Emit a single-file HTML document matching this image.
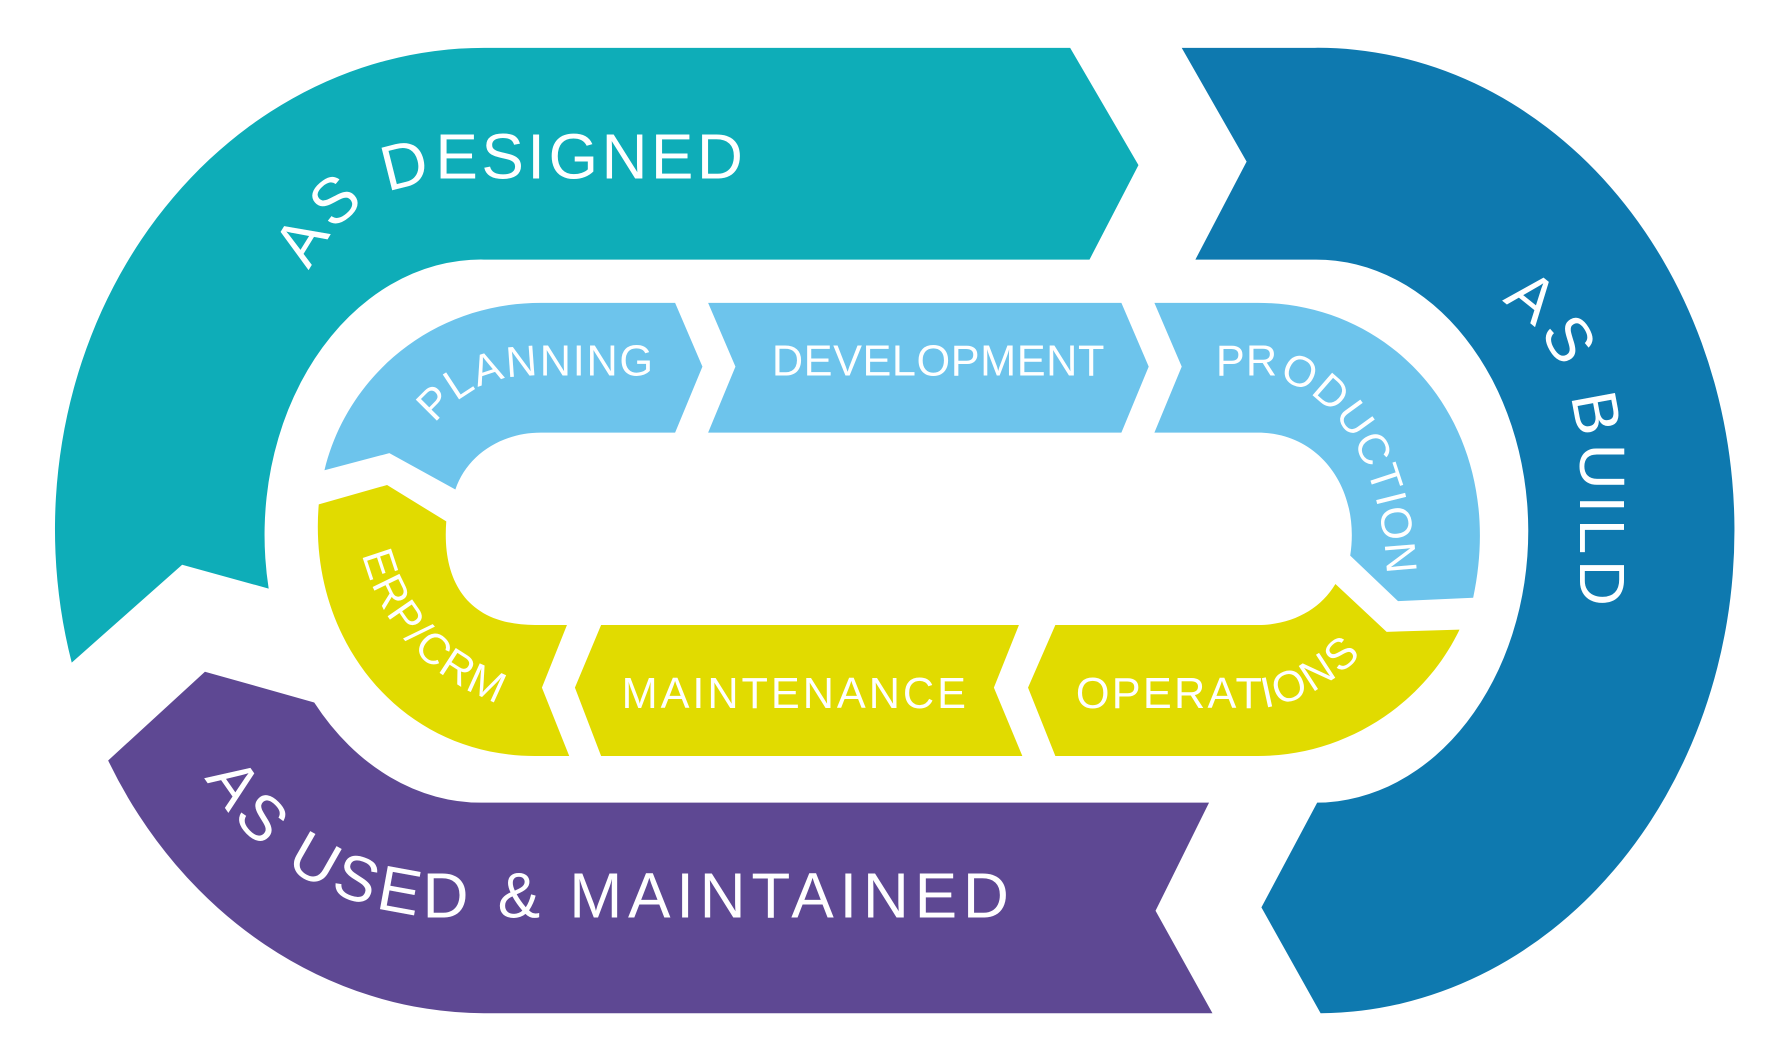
<!DOCTYPE html>
<html><head><meta charset="utf-8"><style>
html,body{margin:0;padding:0;background:#fff;}
svg{display:block;}
text{font-family:"Liberation Sans",sans-serif;fill:#fff;}
</style></head><body>
<svg width="1776" height="1044" viewBox="0 0 1560 917" preserveAspectRatio="none" xmlns="http://www.w3.org/2000/svg">
<defs>
<path id="pDes" d="M 272 238 C 297 185 335 162 400 157 L 720 157"/>
<path id="pBuild" d="M 1318 266 C 1360 286 1386 340 1388 410 L 1388 580"/>
<path id="pUsed" d="M 180 683 C 225 760 300 802 390 806 L 940 806"/>
<path id="pPlan" d="M 382 372 C 405 345 430 330 470 330 L 620 330"/>
<path id="pProd" d="M 1068 330 L 1110 330 C 1170 340 1212 400 1218 500"/>
<path id="pErp" d="M 318 487 C 335 550 375 600 455 624"/>
<path id="pOps" d="M 945 622 L 1110 622 C 1150 615 1180 595 1215 555"/>
</defs>
<path d="M 63 582 A 377 423 0 0 1 425 42 L 940 42 L 1000 145 L 957 228 L 425 228 A 190 242 0 0 0 236 517 L 160 496 Z" fill="#0eadb8"/>
<path d="M 1038 42 L 1155 42 A 366 424 0 0 1 1160 890 L 1108 797 L 1157 705 A 186 238 0 0 0 1155 228 L 1050 228 L 1095 142 Z" fill="#0e79af"/>
<path d="M 180 590 L 276 617 A 190 242 0 0 0 425 705 L 1062 705 L 1015 800 L 1065 890 L 425 890 A 377 423 0 0 1 95 668 Z" fill="#5e4893"/>
<path d="M 285 413 C 305 330 380 266 475 266 L 593 266 L 617 322 L 593 380 L 475 380 C 440 380 410 400 400 430 L 342 398 Z" fill="#6dc4ec"/>
<path d="M 622 266 L 985 266 L 1009 322 L 985 380 L 622 380 L 646 322 Z" fill="#6dc4ec"/>
<path d="M 1014 266 L 1105 266 C 1230 266 1325 380 1294 525 L 1228 528 L 1186 488 C 1195 430 1160 380 1105 380 L 1014 380 L 1038 322 Z" fill="#6dc4ec"/>
<path d="M 280 443 L 340 426 L 392 458 C 388 510 410 549 470 549 L 498 549 L 476 604 L 500 664 L 470 664 C 350 664 270 560 280 443 Z" fill="#e1db00"/>
<path d="M 528 549 L 895 549 L 873 604 L 898 664 L 528 664 L 505 604 Z" fill="#e1db00"/>
<path d="M 927 549 L 1105 549 C 1135 549 1160 535 1173 513 L 1218 555 L 1282 553 C 1250 620 1180 664 1105 664 L 927 664 L 903 604 Z" fill="#e1db00"/>
<text font-size="56" letter-spacing="3"><textPath href="#pDes">AS DESIGNED</textPath></text>
<text font-size="56" letter-spacing="5"><textPath href="#pBuild">AS BUILD</textPath></text>
<text font-size="56" letter-spacing="5"><textPath href="#pUsed">AS USED &amp; MAINTAINED</textPath></text>
<text font-size="38" letter-spacing="1.5"><textPath href="#pPlan">PLANNING</textPath></text>
<text x="678" y="330" font-size="38" letter-spacing="0.5">DEVELOPMENT</text>
<text font-size="38" letter-spacing="1"><textPath href="#pProd">PRODUCTION</textPath></text>
<text font-size="38" letter-spacing="1.5"><textPath href="#pErp">ERP/CRM</textPath></text>
<text x="546" y="622" font-size="38" letter-spacing="2.6">MAINTENANCE</text>
<text font-size="38" letter-spacing="2"><textPath href="#pOps">OPERATIONS</textPath></text>
</svg>
</body></html>
